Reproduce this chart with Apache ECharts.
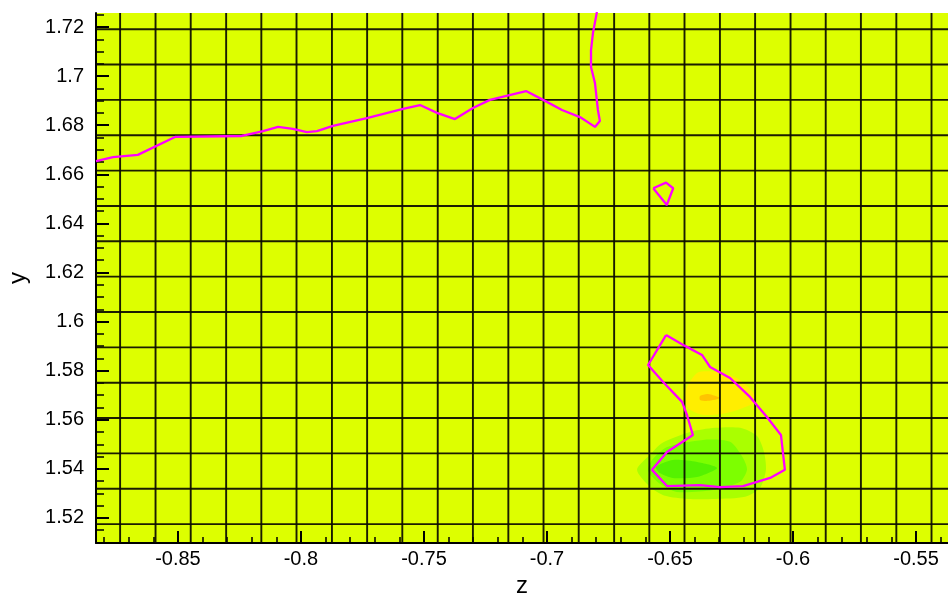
<!DOCTYPE html>
<html>
<head>
<meta charset="utf-8">
<script src="https://cdn.jsdelivr.net/npm/echarts@6/dist/echarts.min.js"></script>
<style>
  html, body { margin: 0; padding: 0; background: #fff; }
  #chart { width: 948px; height: 593px; }
</style>
</head>
<body>
<div id="chart"></div>
<script>
// Axis ranges
const zRange = [-0.8833, -0.537];
const yRange = [1.5098, 1.7257];

// Tick values
const zMajorTicks = [-0.85, -0.8, -0.75, -0.7, -0.65, -0.6, -0.55];
const zMinorTicks = [-0.88, -0.87, -0.86, -0.84, -0.83, -0.82, -0.81, -0.79, -0.78, -0.77, -0.76,
  -0.74, -0.73, -0.72, -0.71, -0.69, -0.68, -0.67, -0.66, -0.64, -0.63, -0.62, -0.61,
  -0.59, -0.58, -0.57, -0.56, -0.54];
const yMajorTicks = [1.52, 1.54, 1.56, 1.58, 1.6, 1.62, 1.64, 1.66, 1.68, 1.7, 1.72];
const yMinorTicks = [1.51, 1.515, 1.525, 1.53, 1.535, 1.545, 1.55, 1.555, 1.565, 1.57, 1.575,
  1.585, 1.59, 1.595, 1.605, 1.61, 1.615, 1.625, 1.63, 1.635, 1.645, 1.65, 1.655,
  1.665, 1.67, 1.675, 1.685, 1.69, 1.695, 1.705, 1.71, 1.715, 1.725];

// Mesh line positions
const meshZ = [-0.8735, -0.8591, -0.8448, -0.8304, -0.8161, -0.8018, -0.7874, -0.7731,
  -0.7588, -0.7444, -0.7301, -0.7157, -0.7014, -0.6871, -0.6727, -0.6584, -0.6441,
  -0.6297, -0.6154, -0.6010, -0.5867, -0.5724, -0.5580, -0.5437];
const meshY = [1.7191, 1.7047, 1.6903, 1.6759, 1.6615, 1.6471, 1.6327, 1.6183,
  1.6039, 1.5895, 1.5751, 1.5607, 1.5463, 1.5319, 1.5175];

// Contour lines [z, y]
const contourUpper = [[-0.8833, 1.6654], [-0.8764, 1.6670], [-0.8663, 1.6679], [-0.8512, 1.6752],
  [-0.8240, 1.6756], [-0.8154, 1.6776], [-0.8093, 1.6793], [-0.8033, 1.6785], [-0.7976, 1.6772],
  [-0.7935, 1.6776], [-0.7870, 1.6797], [-0.7732, 1.6829], [-0.7585, 1.6866], [-0.7516, 1.6882],
  [-0.7447, 1.6850], [-0.7374, 1.6825], [-0.7301, 1.6870], [-0.7232, 1.6903], [-0.7085, 1.6939],
  [-0.7008, 1.6899], [-0.6939, 1.6862], [-0.6866, 1.6833], [-0.6805, 1.6793], [-0.6785, 1.6817],
  [-0.6793, 1.6862], [-0.6805, 1.6972], [-0.6821, 1.7037], [-0.6821, 1.7106], [-0.6813, 1.7176],
  [-0.6797, 1.7261]];
const contourSmallLoop = [[-0.6568, 1.6543], [-0.6516, 1.6566], [-0.6487, 1.6543],
  [-0.6513, 1.6475], [-0.6568, 1.6543]];
const contourLowerLoop = [[-0.6516, 1.5945], [-0.6439, 1.5901], [-0.6370, 1.5864], [-0.6337, 1.5815],
  [-0.6256, 1.5770], [-0.6175, 1.5693], [-0.6106, 1.5611], [-0.6049, 1.5538], [-0.6033, 1.5396],
  [-0.6093, 1.5363], [-0.6203, 1.5330], [-0.6297, 1.5326], [-0.6378, 1.5334], [-0.6512, 1.5330],
  [-0.6573, 1.5396], [-0.6512, 1.5469], [-0.6407, 1.5538], [-0.6431, 1.5620], [-0.6451, 1.5673],
  [-0.6528, 1.5754], [-0.6589, 1.5823], [-0.6516, 1.5945]];

// Flood regions [z, y]
const floodGreenOuter = [[-0.6634, 1.5396], [-0.6581, 1.5457], [-0.6532, 1.5505], [-0.6419, 1.5550],
  [-0.6317, 1.5567], [-0.6215, 1.5567], [-0.6146, 1.5534], [-0.6118, 1.5469], [-0.6110, 1.5396],
  [-0.6134, 1.5322], [-0.6195, 1.5286], [-0.6317, 1.5277], [-0.6427, 1.5277], [-0.6520, 1.5290],
  [-0.6581, 1.5326]];
const floodGreenMid = [[-0.6589, 1.5391], [-0.6573, 1.5436], [-0.6512, 1.5489], [-0.6366, 1.5518],
  [-0.6256, 1.5510], [-0.6203, 1.5444], [-0.6187, 1.5396], [-0.6215, 1.5347], [-0.6325, 1.5314],
  [-0.6472, 1.5306], [-0.6541, 1.5339]];
const floodGreenInner = [[-0.6557, 1.5408], [-0.6488, 1.5436], [-0.6390, 1.5428], [-0.6309, 1.5404],
  [-0.6390, 1.5367], [-0.6488, 1.5363], [-0.6541, 1.5383]];
const floodYellow = [[-0.6390, 1.5791], [-0.6309, 1.5795], [-0.6228, 1.5770], [-0.6163, 1.5713],
  [-0.6154, 1.5673], [-0.6203, 1.5648], [-0.6268, 1.5628], [-0.6366, 1.5620], [-0.6427, 1.5648],
  [-0.6439, 1.5713]];
const floodOrange = [[-0.6378, 1.5697], [-0.6346, 1.5705], [-0.6297, 1.5689], [-0.6346, 1.5677],
  [-0.6378, 1.5681]];

const floods = [
  { pts: floodGreenOuter, color: '#AAFF00' },
  { pts: floodGreenMid, color: '#7DFF00' },
  { pts: floodGreenInner, color: '#55F200' },
  { pts: floodYellow, color: '#FFEE00' },
  { pts: floodOrange, color: '#FFC400' }
];

const FONT = "'Liberation Sans', Arial, Helvetica, sans-serif";
const MESH_STROKE = 'rgba(10,10,0,0.92)';
const chart = echarts.init(document.getElementById('chart'), null, { renderer: 'canvas' });

function baseAxis(range) {
  return {
    type: 'value', min: range[0], max: range[1], scale: true,
    splitLine: { show: false }, minorTick: { show: false }
  };
}

const option = {
  animation: false,
  backgroundColor: '#ffffff',
  grid: {
    left: 96, right: 0, top: 13, bottom: 50,
    outerBoundsMode: 'none', containLabel: false,
    show: true, backgroundColor: '#DDFF00', borderWidth: 0
  },
  xAxis: [
    Object.assign(baseAxis(zRange), {
      position: 'bottom',
      name: 'z', nameLocation: 'middle', nameGap: 28,
      nameTextStyle: { fontFamily: FONT, fontSize: 24, color: '#000' },
      axisLine: { show: true, onZero: false, lineStyle: { color: '#000', width: 2 } },
      axisTick: { show: true, inside: true, length: 12, customValues: zMajorTicks, lineStyle: { color: '#000', width: 2 } },
      axisLabel: { show: true, customValues: zMajorTicks, margin: 6, fontFamily: FONT, fontSize: 20, color: '#000' }
    }),
    Object.assign(baseAxis(zRange), {
      position: 'bottom', offset: 0,
      axisLine: { show: false, onZero: false },
      axisTick: { show: true, inside: true, length: 6, customValues: zMinorTicks, lineStyle: { color: '#000', width: 1.5 } },
      axisLabel: { show: false }
    })
  ],
  yAxis: [
    Object.assign(baseAxis(yRange), {
      position: 'left',
      name: 'y', nameLocation: 'middle', nameGap: 66, nameRotate: 90,
      nameTextStyle: { fontFamily: FONT, fontSize: 24, color: '#000' },
      axisLine: { show: true, onZero: false, lineStyle: { color: '#000', width: 2 } },
      axisTick: { show: true, inside: true, length: 13, customValues: yMajorTicks, lineStyle: { color: '#000', width: 2 } },
      axisLabel: { show: true, customValues: yMajorTicks, margin: 12, fontFamily: FONT, fontSize: 20, color: '#000' }
    }),
    Object.assign(baseAxis(yRange), {
      position: 'left', offset: 0,
      axisLine: { show: false, onZero: false },
      axisTick: { show: true, inside: true, length: 8, customValues: yMinorTicks, lineStyle: { color: '#000', width: 1.5 } },
      axisLabel: { show: false }
    })
  ],
  series: [
    {
      // flood contour bands
      type: 'custom', name: 'flood', xAxisIndex: 0, yAxisIndex: 0, silent: true, clip: true, z: 1,
      data: floods.map((f, i) => [f.pts[0][0], f.pts[0][1], i]),
      renderItem: function (params, api) {
        const f = floods[params.dataIndex];
        return {
          type: 'polygon',
          shape: { points: f.pts.map(p => api.coord(p)), smooth: 0.25 },
          style: { fill: f.color, stroke: null }
        };
      }
    },
    {
      // vertical mesh lines
      type: 'custom', name: 'meshZ', xAxisIndex: 0, yAxisIndex: 0, silent: true, clip: true, z: 2,
      data: meshZ.map(z => [z, yRange[0]]),
      renderItem: function (params, api) {
        const z = api.value(0);
        const a = api.coord([z, yRange[0]]);
        const b = api.coord([z, yRange[1]]);
        return { type: 'line', shape: { x1: a[0], y1: a[1], x2: b[0], y2: b[1] },
          style: { stroke: MESH_STROKE, lineWidth: 1.9 } };
      }
    },
    {
      // horizontal mesh lines
      type: 'custom', name: 'meshY', xAxisIndex: 0, yAxisIndex: 0, silent: true, clip: true, z: 2,
      data: meshY.map(y => [zRange[0], y]),
      renderItem: function (params, api) {
        const y = api.value(1);
        const a = api.coord([zRange[0], y]);
        const b = api.coord([zRange[1], y]);
        return { type: 'line', shape: { x1: a[0], y1: a[1], x2: b[0], y2: b[1] },
          style: { stroke: MESH_STROKE, lineWidth: 1.9 } };
      }
    }
  ].concat([contourUpper, contourSmallLoop, contourLowerLoop].map(line => ({
    type: 'line', xAxisIndex: 0, yAxisIndex: 0, data: line, symbol: 'none', silent: true,
    clip: true, z: 3,
    lineStyle: { color: '#FF00FF', width: 2.3 }
  })))
};

chart.setOption(option);
</script>
</body>
</html>
